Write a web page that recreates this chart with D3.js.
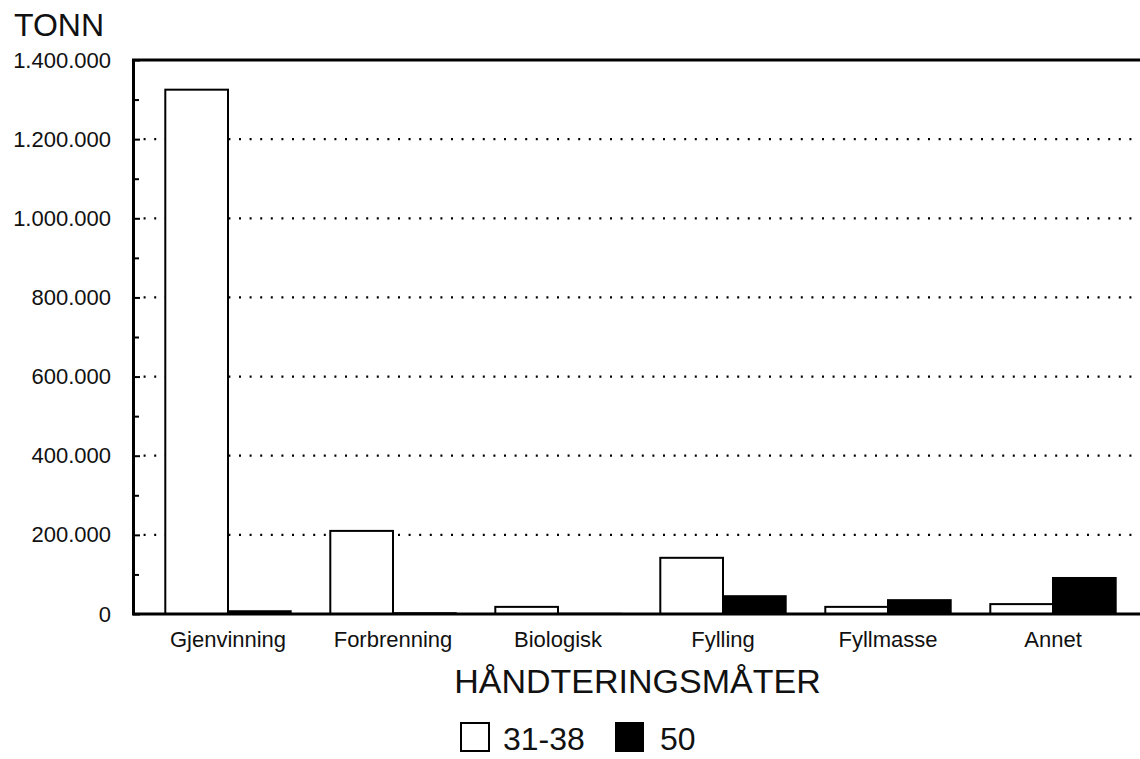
<!DOCTYPE html>
<html><head><meta charset="utf-8">
<script src="https://cdn.jsdelivr.net/npm/d3@7"></script>
<style>body{margin:0;background:#fff}svg{display:block;font-family:"Liberation Sans",Arial,sans-serif}</style>
</head><body><svg id="c" width="1140" height="759"></svg>
<script>
const categories = ["Gjenvinning","Forbrenning","Biologisk","Fylling","Fyllmasse","Annet"];
const seriesNames = ["31-38","50"];
const values3138 = [1325000, 210000, 18000, 142000, 18000, 25000];
const values50 = [7000, 2000, 500, 45000, 35000, 91000];
const yTicks = [0,200000,400000,600000,800000,1000000,1200000,1400000];
const yTickLabels = ["0","200.000","400.000","600.000","800.000","1.000.000","1.200.000","1.400.000"];
const yMinor = [100000,300000,500000,700000,900000,1100000,1300000];
const yTitle = "TONN";
const xTitle = "HÅNDTERINGSMÅTER";

const FONT = "Liberation Sans, Arial, sans-serif";
const svg = d3.select("#c");
const X0 = 133, X1 = 1140, Y0 = 614, Y1 = 60;
const y = d3.scaleLinear().domain([0,1400000]).range([Y0,Y1]);
const x = d3.scaleBand().domain(categories).range([145.5,1135.5]).paddingInner(0.24).paddingOuter(0.12);
const xs = d3.scaleBand().domain(seriesNames).range([0,x.bandwidth()]);

// grid
svg.append("g").selectAll("line").data(yTicks.filter(d=>d>0&&d<1400000)).join("line")
  .attr("x1",X0).attr("x2",X1).attr("y1",d=>y(d)).attr("y2",d=>y(d))
  .attr("stroke","#000").attr("stroke-width",2.2).attr("stroke-dasharray","2,8.6");

// bars
const data = [];
categories.forEach((c,i)=>{data.push({c,s:"31-38",v:values3138[i]});data.push({c,s:"50",v:values50[i]});});
svg.append("g").selectAll("rect").data(data).join("rect")
  .attr("x",d=>x(d.c)+xs(d.s)).attr("width",xs.bandwidth())
  .attr("y",d=>y(d.v)).attr("height",d=>Y0-y(d.v))
  .attr("fill",d=>d.s==="50"?"#000":"#fff").attr("stroke","#000").attr("stroke-width",2);

// axis left with inward ticks
const ax = svg.append("g").attr("transform",`translate(${X0},0)`)
  .call(d3.axisLeft(y).tickValues(yTicks).tickFormat((d,i)=>yTickLabels[i]).tickSizeInner(-7).tickSizeOuter(0).tickPadding(22));
ax.select(".domain").attr("stroke-width",3);
ax.selectAll(".tick line").attr("stroke-width",2);
ax.selectAll("text").attr("font-size",22).attr("fill","#111").attr("font-family",FONT);
svg.append("g").attr("transform",`translate(${X0},0)`)
  .call(d3.axisLeft(y).tickValues(yMinor).tickFormat("").tickSizeInner(-6).tickSizeOuter(0))
  .call(g=>g.select(".domain").remove()).selectAll("line").attr("stroke-width",2);

// frame top and baseline
svg.append("line").attr("x1",X0-1).attr("x2",X1).attr("y1",y(1400000)).attr("y2",y(1400000)).attr("stroke","#000").attr("stroke-width",3);
svg.append("line").attr("x1",X0-1).attr("x2",X1).attr("y1",Y0).attr("y2",Y0).attr("stroke","#000").attr("stroke-width",3);

// x labels
const xa = svg.append("g").attr("transform",`translate(0,${Y0})`)
  .call(d3.axisBottom(x).tickSize(0).tickPadding(17.5));
xa.select(".domain").remove();
xa.selectAll("text").attr("font-size",22).attr("fill","#111").attr("font-family",FONT);

svg.append("text").attr("x",14).attr("y",36).attr("font-size",32).attr("fill","#111").attr("font-family",FONT).text(yTitle);
svg.append("text").attr("x",637.5).attr("y",693).attr("text-anchor","middle").attr("font-size",34).attr("fill","#111").attr("font-family",FONT).text(xTitle);

// legend
const lg = svg.append("g");
const legendX = [461, 616];
seriesNames.forEach((s,i)=>{
  lg.append("rect").attr("x",legendX[i]).attr("y",723).attr("width",i?27:28).attr("height",28)
    .attr("fill",i?"#000":"#fff").attr("stroke","#000").attr("stroke-width",2);
  lg.append("text").attr("x",legendX[i]+(i?44:42)).attr("y",750).attr("font-size",32).attr("fill","#111").attr("font-family",FONT).text(s);
});
</script></body></html>
